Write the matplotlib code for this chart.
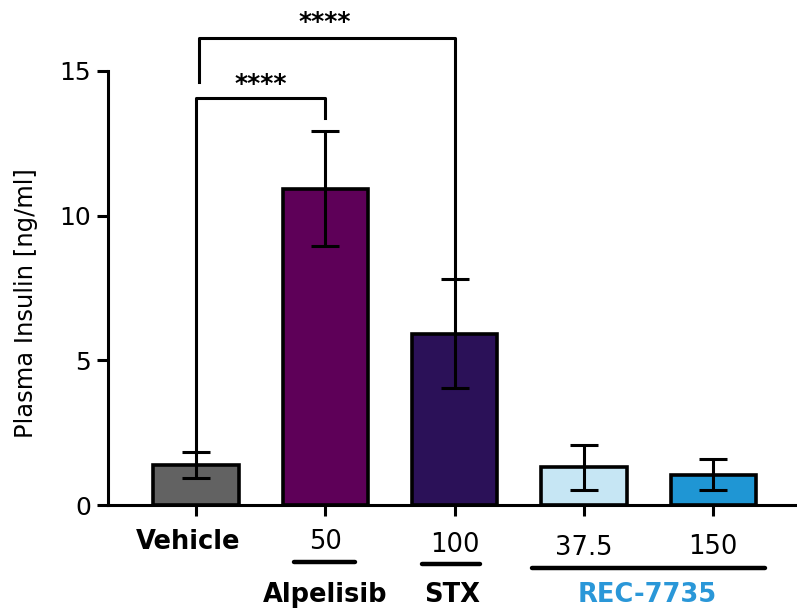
import numpy as np
import matplotlib.pyplot as plt

groups = ["Vehicle", "Alpelisib 50", "STX 100", "REC-7735 37.5", "REC-7735 150"]
dose_labels = ["Vehicle", "50", "100", "37.5", "150"]
means = [1.38, 10.93, 5.92, 1.30, 1.05]
errs = [0.46, 1.98, 1.88, 0.78, 0.53]
colors = ["#626262", "#5e0058", "#2b1158", "#c6e6f4", "#1f96d4"]

plt.rcParams["font.family"] = ["DejaVu Sans"]

fig = plt.figure(figsize=(7.97, 6.08), dpi=100)
ax = fig.add_axes([0.1355, 0.1694, 0.8645, 0.8092])

x = np.arange(len(groups))
ax.bar(x, means, width=0.66, color=colors, edgecolor="black", linewidth=2.6, zorder=2)
ax.errorbar(x, means, yerr=errs, fmt="none", ecolor="black", elinewidth=2.2,
            capsize=10, capthick=2.2, zorder=3)

ax.set_xlim(-0.68, 4.648)
ax.set_ylim(0, 17)
ax.set_yticks([0, 5, 10, 15])
ax.spines["left"].set_bounds(0, 15)
ax.spines["top"].set_visible(False)
ax.spines["right"].set_visible(False)
for s in ["left", "bottom"]:
    ax.spines[s].set_linewidth(2.2)
ax.tick_params(axis="y", labelsize=18, width=2.2, length=8, pad=4)
ax.tick_params(axis="x", width=2.2, length=8, labelbottom=False)
ax.set_xticks(x)
ax.set_ylabel("Plasma Insulin [ng/ml]", fontsize=17.5)
ax.yaxis.set_label_coords(-0.102, 0.41)

# dose / group labels under the axis
ax.text(-0.06, -1.29, dose_labels[0], ha="center", va="center", fontsize=18.5,
        fontweight="bold", clip_on=False)
for xi, lab, yy in zip(x[1:], dose_labels[1:], [-1.27, -1.37, -1.48, -1.45]):
    ax.text(xi, yy, lab, ha="center", va="center", fontsize=18.5, clip_on=False)

line_kw = dict(color="black", lw=3.2, solid_capstyle="round", clip_on=False)
ax.plot([0.76, 1.23], [-1.98, -1.98], **line_kw)
ax.plot([1.75, 2.20], [-2.03, -2.03], **line_kw)
ax.plot([2.60, 4.40], [-2.18, -2.18], **line_kw)

ax.text(1.0, -3.1, "Alpelisib", ha="center", va="center", fontsize=18.5,
        fontweight="bold", clip_on=False)
ax.text(1.98, -3.1, "STX", ha="center", va="center", fontsize=18.5,
        fontweight="bold", clip_on=False)
ax.text(3.49, -3.1, "REC-7735", ha="center", va="center", fontsize=18.5,
        fontweight="bold", color="#2a97d8", clip_on=False)

# significance brackets
br_kw = dict(color="black", lw=2.2, clip_on=False, zorder=4)
ax.plot([0, 0, 1, 1], [means[0] + errs[0], 14.05, 14.05, 13.37], **br_kw)
ax.text(0.5, 14.55, "****", ha="center", va="center", fontsize=18, fontweight="bold")
ax.plot([0.02, 0.02, 2, 2], [14.6, 16.15, 16.15, means[2] + errs[2]], **br_kw)
ax.text(1.0, 16.7, "****", ha="center", va="center", fontsize=18, fontweight="bold",
        clip_on=False)

fig.savefig("out.png", dpi=100)
